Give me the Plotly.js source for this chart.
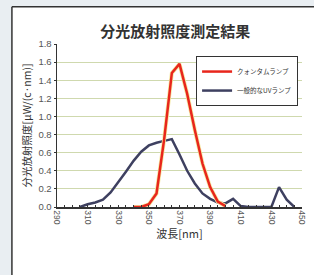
<!DOCTYPE html>
<html><head><meta charset="utf-8">
<script src="https://cdn.plot.ly/plotly-3.0.1.min.js"></script>
<style>html,body{margin:0;padding:0;background:#e9eef2;}#c{width:314px;height:275px;}</style>
</head><body><div id="c"></div>
<script>
const redX = [340,345,350,355,360,365,370,375,380,385,390,395,400];
const redY = [0,0,0.03,0.15,0.75,1.48,1.58,1.25,0.85,0.48,0.22,0.06,0.01];
const blueX = [305,310,315,320,325,330,335,340,345,350,355,360,365,370,375,380,385,390,395,400,405,410,415,420,425,430,435,440,445];
const blueY = [0,0.03,0.05,0.08,0.16,0.27,0.39,0.51,0.61,0.68,0.71,0.73,0.75,0.58,0.4,0.26,0.15,0.09,0.05,0.04,0.09,0.01,0,0,0,0,0.22,0.08,0];
const xTicks = [290,310,330,350,370,390,410,430,450];
const yTicks = [0,0.2,0.4,0.6,0.8,1.0,1.2,1.4,1.6,1.8];
const redName = 'クォンタムランプ';
const blueName = '一般的なUVランプ';

const font = "'Liberation Sans', 'Noto Sans CJK JP', sans-serif";
const data = [
  {x: blueX, y: blueY, mode: 'lines', name: blueName, line: {color: '#3e4060', width: 2.5}, showlegend: false, hoverinfo:'skip'},
  {x: redX, y: redY, mode: 'lines', line: {color: '#f4e8a0', width: 4}, showlegend: false, hoverinfo:'skip'},
  {x: redX, y: redY, mode: 'lines', name: redName, line: {color: '#e8261c', width: 2.5}},
  {x: [null], y: [null], mode: 'lines', name: blueName, line: {color: '#3e4060', width: 2.5}}
];
const layout = {
  width: 314, height: 275,
  margin: {l: 57, r: 12, t: 44, b: 68},
  paper_bgcolor: '#e9eef2',
  plot_bgcolor: '#edf3d4',
  font: {family: font, color: '#444'},
  title: {text: '分光放射照度測定結果', font: {size: 15, color: '#333', family: "'Noto Sans CJK JP', sans-serif", weight: 'bold'}, x: 0.558, xanchor: 'center', y: 0.885, yanchor: 'middle'},
  xaxis: {
    range: [290, 450], tickvals: xTicks, ticktext: xTicks.map(String), tickangle: 90,
    tickfont: {size: 8.5, color: '#555'}, showgrid: false, zeroline: false,
    showline: true, linecolor: '#333', linewidth: 1.5,
    ticks: 'inside', ticklen: 2, tickcolor: '#333',
    minor: {dtick: 5, ticks: 'inside', ticklen: 2, tickcolor: '#333', showgrid: false},
    title: {text: '波長[nm]', font: {size: 11, color: '#333', family: "'Noto Sans CJK JP', sans-serif"}, standoff: 6}
  },
  yaxis: {
    range: [0, 1.8], tickvals: yTicks, ticktext: yTicks.map(v => v.toFixed(1)),
    tickfont: {size: 9.5, color: '#555'}, showgrid: true, gridcolor: '#cfd9ae', gridwidth: 1,
    zeroline: false, showline: true, linecolor: '#333', linewidth: 1.5,
    ticks: 'outside', ticklen: 2, tickcolor: '#333',
    title: {text: '分光放射照度[μW/(c·nm)]', font: {size: 10.5, color: '#333', family: "'Noto Sans CJK JP', sans-serif"}, standoff: 4}
  },
  legend: {x: 0.984, xanchor: 'right', y: 0.926, yanchor: 'top', bgcolor: '#ffffff', bordercolor: '#333', borderwidth: 1,
    font: {size: 6.5, color: '#333', family: "'Noto Sans CJK JP', sans-serif"}, itemwidth: 30, tracegroupgap: 0},
  shapes: [
    {type: 'rect', xref: 'paper', yref: 'paper', x0: -0.184, x1: 1.06, y0: -0.45, y1: 1.229, fillcolor: '#ffffff', line: {width: 0}, layer: 'below'},
    {type: 'line', xref: 'paper', yref: 'paper', x0: -0.184, x1: 1.06, y0: 1.229, y1: 1.229, line: {color: '#333', width: 1.5}},
    {type: 'line', xref: 'paper', yref: 'paper', x0: -0.184, x1: -0.184, y0: -0.45, y1: 1.229, line: {color: '#333', width: 1.5}}
  ]
};
Plotly.newPlot('c', data, layout, {staticPlot: true, displayModeBar: false});
</script></body></html>
